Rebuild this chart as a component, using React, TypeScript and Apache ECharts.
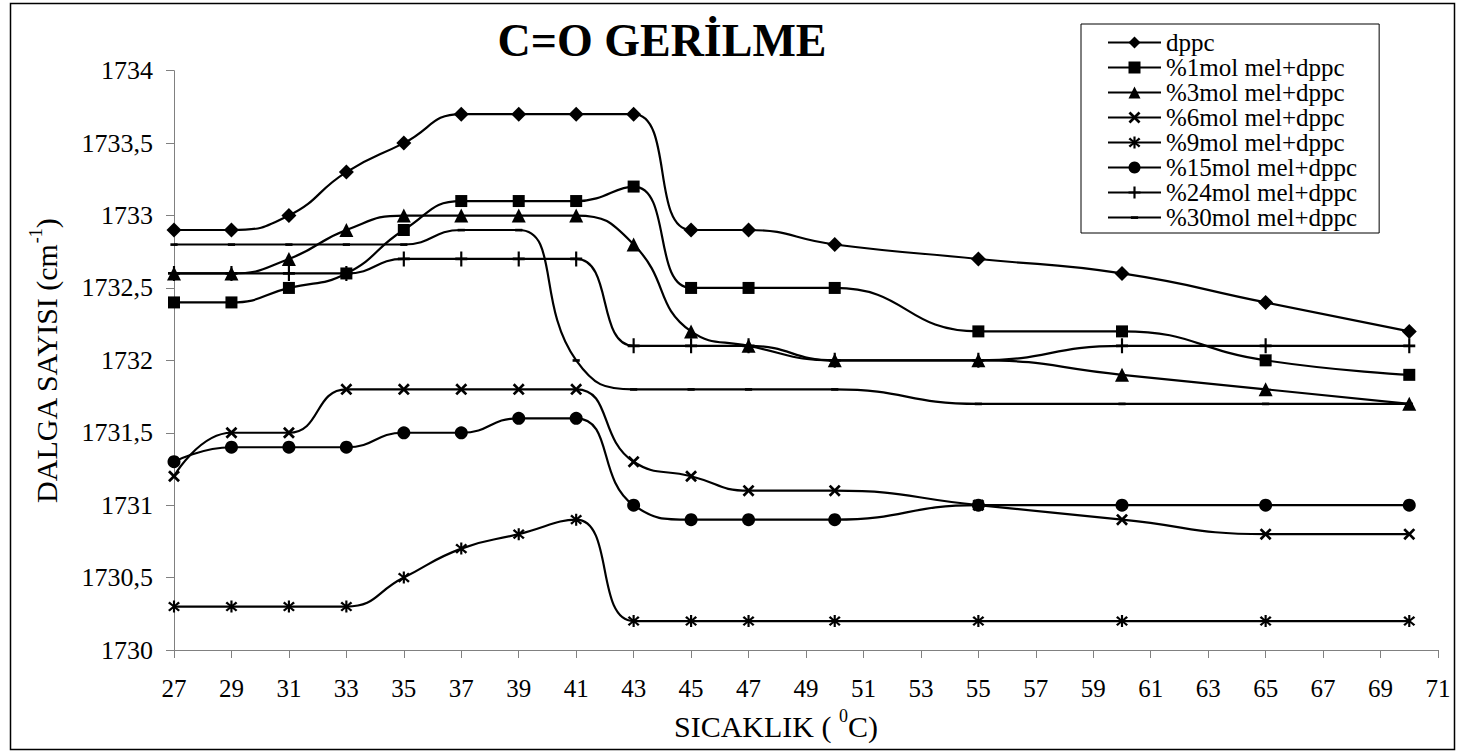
import React, { useEffect, useRef } from "react";
import * as echarts from "echarts";

const temps = [27, 29, 31, 33, 35, 37, 39, 41, 43, 45, 47, 50, 55, 60, 65, 70];
const dppc = [1732.9, 1732.9, 1733.0, 1733.3, 1733.5, 1733.7, 1733.7, 1733.7, 1733.7, 1732.9, 1732.9, 1732.8, 1732.7, 1732.6, 1732.4, 1732.2];
const mol1 = [1732.4, 1732.4, 1732.5, 1732.6, 1732.9, 1733.1, 1733.1, 1733.1, 1733.2, 1732.5, 1732.5, 1732.5, 1732.2, 1732.2, 1732.0, 1731.9];
const mol3 = [1732.6, 1732.6, 1732.7, 1732.9, 1733.0, 1733.0, 1733.0, 1733.0, 1732.8, 1732.2, 1732.1, 1732.0, 1732.0, 1731.9, 1731.8, 1731.7];
const mol6 = [1731.2, 1731.5, 1731.5, 1731.8, 1731.8, 1731.8, 1731.8, 1731.8, 1731.3, 1731.2, 1731.1, 1731.1, 1731.0, 1730.9, 1730.8, 1730.8];
const mol9 = [1730.3, 1730.3, 1730.3, 1730.3, 1730.5, 1730.7, 1730.8, 1730.9, 1730.2, 1730.2, 1730.2, 1730.2, 1730.2, 1730.2, 1730.2, 1730.2];
const mol15 = [1731.3, 1731.4, 1731.4, 1731.4, 1731.5, 1731.5, 1731.6, 1731.6, 1731.0, 1730.9, 1730.9, 1730.9, 1731.0, 1731.0, 1731.0, 1731.0];
const mol24 = [1732.6, 1732.6, 1732.6, 1732.6, 1732.7, 1732.7, 1732.7, 1732.7, 1732.1, 1732.1, 1732.1, 1732.0, 1732.0, 1732.1, 1732.1, 1732.1];
const mol30 = [1732.8, 1732.8, 1732.8, 1732.8, 1732.8, 1732.9, 1732.9, 1732.0, 1731.8, 1731.8, 1731.8, 1731.8, 1731.7, 1731.7, 1731.7, 1731.7];

const seriesNames = [
  "dppc",
  "%1mol mel+dppc",
  "%3mol mel+dppc",
  "%6mol mel+dppc",
  "%9mol mel+dppc",
  "%15mol mel+dppc",
  "%24mol mel+dppc",
  "%30mol mel+dppc",
];

const titleText = "C=O GERİLME";
const yTitle = "DALGA SAYISI (cm";
const xTitle = "SICAKLIK ( ";

const FONT = "Liberation Serif";

const X_PATH =
  "path://M0,1.6 L1.6,0 L5,3.4 L8.4,0 L10,1.6 L6.6,5 L10,8.4 L8.4,10 L5,6.6 L1.6,10 L0,8.4 L3.4,5 Z";
const PLUS_PATH =
  "path://M4.1,0 H5.9 V4.1 H10 V5.9 H5.9 V10 H4.1 V5.9 H0 V4.1 H4.1 Z";
const STAR_PATH =
  "path://M0,2.2 L1.4,0.8 L5,4.1 L8.6,0.8 L10,2.2 L6.3,5 L10,7.8 L8.6,9.2 L5,5.9 L1.4,9.2 L0,7.8 L3.7,5 Z M4.1,0 H5.9 V10 H4.1 Z";
const DASH_PATH = "path://M0,0 M2,4 H8 V6.2 H2 Z M10,10";

export default function App() {
  const ref = useRef<HTMLDivElement>(null);

  useEffect(() => {
    if (!ref.current) return;
    const chart = echarts.init(ref.current, undefined, { renderer: "svg" });

    const datasets = [dppc, mol1, mol3, mol6, mol9, mol15, mol24, mol30];
    const symbols: any[] = ["diamond", "rect", "triangle", X_PATH, STAR_PATH, "circle", PLUS_PATH, DASH_PATH];
    const sizes: any[] = [15, 12, 14, 12, 12, 13, [12, 15], 12];

    const series = datasets.map((d, i) => ({
      name: seriesNames[i],
      type: "line",
      data: temps.map((t, j) => [t, d[j]]),
      smooth: 0.5,
      symbol: symbols[i],
      symbolSize: sizes[i],
      showAllSymbol: true,
      lineStyle: { color: "#000", width: 2.2 },
      itemStyle: { color: "#000", borderColor: "#000", borderWidth: 0 },
      z: 10 - i,
    }));

    chart.setOption({
      animation: false,
      backgroundColor: "#fff",
      grid: { left: 174, right: 19, top: 70.7, bottom: 101, containLabel: false },
      legend: {
        orient: "vertical",
        left: 1081,
        top: 24,
        itemWidth: 53,
        itemHeight: 15,
        itemGap: 0,
        padding: [6, 22, 3, 26],
        borderColor: "#000",
        borderWidth: 1,
        backgroundColor: "#fff",
        textStyle: { fontFamily: FONT, fontSize: 25, color: "#000", lineHeight: 24.3 },
        data: seriesNames,
      },
      xAxis: {
        type: "value",
        min: 27,
        max: 71,
        interval: 2,
        axisLine: { lineStyle: { color: "#808080", width: 1 } },
        axisTick: { show: true, length: 8, lineStyle: { color: "#808080" } },
        axisLabel: { fontFamily: FONT, fontSize: 25, color: "#000", margin: 26 },
        splitLine: { show: false },
      },
      yAxis: {
        type: "value",
        min: 1730,
        max: 1734,
        interval: 0.5,
        axisLine: { show: true, lineStyle: { color: "#808080", width: 1 } },
        axisTick: { show: true, length: 8, lineStyle: { color: "#808080" } },
        axisLabel: {
          fontFamily: FONT,
          fontSize: 26,
          color: "#000",
          margin: 21,
          formatter: (v: number) => String(v).replace(".", ","),
        },
        splitLine: { show: false },
      },
      graphic: [
        {
          type: "rect",
          shape: { x: 10.5, y: 3.5, width: 1444, height: 746 },
          style: { fill: "none", stroke: "#000", lineWidth: 1.5 },
          z: -10,
          silent: true,
        },
        {
          type: "text",
          x: 662,
          y: 40,
          style: {
            text: titleText,
            font: "bold 46px Liberation Serif",
            fill: "#000",
            align: "center",
            verticalAlign: "middle",
          },
        },
        {
          type: "text",
          x: 44,
          y: 361,
          rotation: Math.PI / 2,
          style: {
            text: "{a|" + yTitle + "}{s|-1}{a|)}",
            align: "center",
            verticalAlign: "middle",
            rich: {
              a: { fontFamily: FONT, fontSize: 30, fill: "#000", lineHeight: 34, verticalAlign: "bottom" },
              s: { fontFamily: FONT, fontSize: 18, fill: "#000", lineHeight: 34, verticalAlign: "top" },
            },
          },
        },
        {
          type: "text",
          x: 776,
          y: 724,
          style: {
            text: "{a|" + xTitle + "}{s|0}{a|C)}",
            align: "center",
            verticalAlign: "middle",
            rich: {
              a: { fontFamily: FONT, fontSize: 30, fill: "#000", lineHeight: 34, verticalAlign: "bottom" },
              s: { fontFamily: FONT, fontSize: 18, fill: "#000", lineHeight: 34, verticalAlign: "top" },
            },
          },
        },
      ],
      series,
    });

    return () => chart.dispose();
  }, []);

  return (
    <div
      ref={ref}
      style={{ position: "fixed", left: 0, top: 0, width: 1457, height: 751, background: "#fff" }}
    />
  );
}
